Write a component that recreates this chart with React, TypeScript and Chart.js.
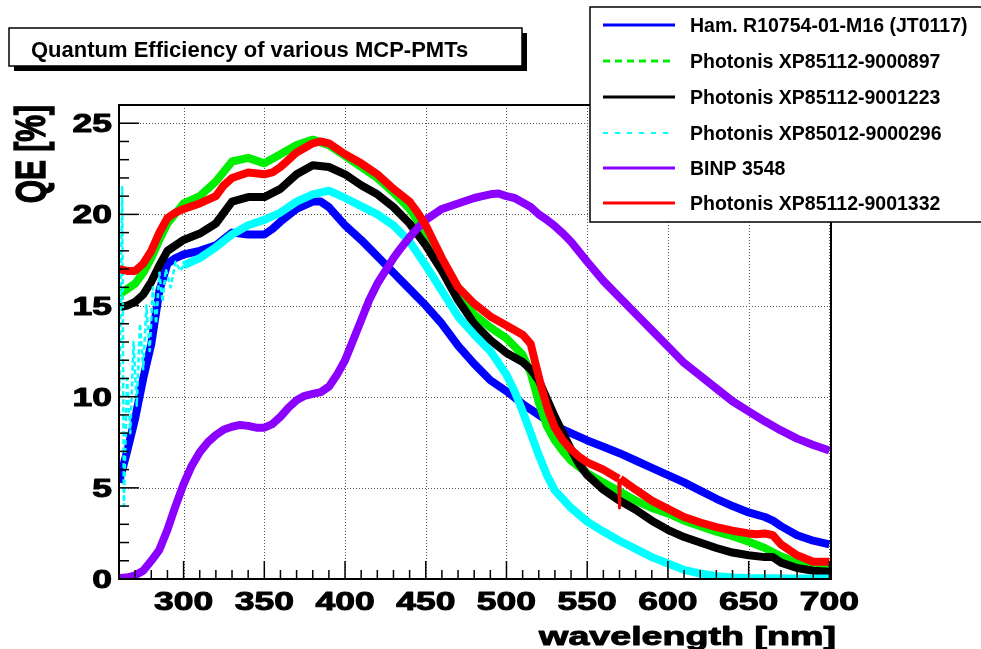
import React, { useEffect, useRef } from 'react';
import { Chart, registerables } from 'chart.js';

Chart.register(...registerables);

// ---------------- data ----------------
const X_MIN = 260;
const X_MAX = 701;
const Y_MIN = 0;
const Y_MAX = 26;

const xTickLabels = [300, 350, 400, 450, 500, 550, 600, 650, 700];
const yTickLabels = [0, 5, 10, 15, 20, 25];

const seriesNames = [
  'Ham. R10754-01-M16 (JT0117)',
  'Photonis XP85112-9000897',
  'Photonis XP85112-9001223',
  'Photonis XP85012-9000296',
  'BINP 3548',
  'Photonis XP85112-9001332',
];
const seriesColors = ['#0000ff', '#00ee00', '#000000', '#00ffff', '#8c00ff', '#ff0000'];

const hamWl = [260, 265, 270, 275, 280, 285, 290, 295, 300, 310, 320, 330, 340, 350, 355, 360, 370, 380, 385, 390, 400, 410, 420, 430, 440, 450, 460, 470, 480, 490, 500, 510, 520, 530, 540, 550, 560, 570, 580, 590, 600, 610, 620, 630, 640, 650, 660, 665, 670, 680, 690, 700];
const hamQE = [5.3, 7.0, 8.8, 11.0, 12.9, 15.8, 17.3, 17.6, 17.8, 18.0, 18.3, 19.0, 18.9, 18.9, 19.2, 19.6, 20.3, 20.7, 20.7, 20.4, 19.4, 18.6, 17.7, 16.8, 15.9, 15.0, 14.0, 12.8, 11.8, 10.9, 10.3, 9.6, 9.0, 8.4, 8.0, 7.6, 7.25, 6.9, 6.5, 6.1, 5.7, 5.3, 4.85, 4.4, 4.0, 3.65, 3.4, 3.2, 2.9, 2.4, 2.1, 1.9];

const ph897Wl = [260, 265, 270, 275, 280, 285, 290, 300, 310, 320, 330, 340, 350, 360, 370, 380, 390, 400, 410, 420, 430, 440, 450, 460, 470, 480, 490, 500, 510, 515, 520, 525, 530, 535, 540, 550, 560, 570, 580, 590, 600, 610, 620, 630, 640, 650, 660, 670, 680, 690, 700];
const ph897QE = [15.6, 15.9, 16.2, 16.8, 17.6, 18.6, 19.5, 20.6, 21.0, 21.8, 22.9, 23.1, 22.8, 23.3, 23.8, 24.1, 23.8, 23.2, 22.6, 22.0, 21.2, 20.3, 19.0, 17.3, 15.8, 14.5, 13.8, 13.2, 12.3, 11.3, 9.7, 8.4, 7.6, 7.0, 6.5, 5.8, 5.3, 4.8, 4.3, 3.9, 3.6, 3.2, 2.9, 2.6, 2.35, 2.05, 1.7, 1.25, 0.9, 0.65, 0.65];

const ph1223Wl = [260, 265, 270, 275, 280, 285, 290, 300, 310, 320, 330, 340, 350, 360, 370, 380, 390, 400, 410, 420, 430, 440, 450, 460, 470, 480, 490, 500, 510, 515, 520, 525, 530, 535, 540, 545, 550, 560, 570, 580, 590, 600, 610, 620, 630, 640, 650, 660, 665, 670, 680, 690, 700];
const ph1223QE = [14.9, 15.0, 15.2, 15.6, 16.3, 17.2, 18.0, 18.6, 18.95, 19.5, 20.7, 20.95, 20.95, 21.4, 22.2, 22.7, 22.6, 22.2, 21.6, 21.1, 20.4, 19.5, 18.3, 16.9, 15.3, 14.0, 13.1, 12.4, 11.9, 11.5, 10.9, 9.9, 8.9, 8.0, 7.1, 6.3, 5.7, 4.9, 4.3, 3.8, 3.2, 2.7, 2.3, 2.0, 1.7, 1.45, 1.3, 1.2, 1.2, 0.9, 0.6, 0.45, 0.4];

const ph296Wl = [260, 262, 263, 265, 267, 269, 271, 273, 275, 277, 279, 281, 283, 285, 287, 289, 292, 295, 298, 300, 310, 320, 330, 340, 350, 360, 370, 380, 390, 400, 410, 420, 430, 440, 450, 460, 470, 480, 490, 500, 505, 510, 515, 520, 525, 530, 540, 550, 560, 570, 580, 590, 600, 610, 620, 630, 640, 650, 675, 700];
const ph296QE = [9, 21.5, 4, 11, 8, 13, 9.5, 14, 11.5, 15, 12.5, 16, 14, 16.8, 15.2, 17, 16, 17.4, 16.9, 17.2, 17.6, 18.2, 18.9, 19.4, 19.7, 20.1, 20.7, 21.1, 21.3, 20.9, 20.45, 20.0, 19.4, 18.5, 17.2, 15.8, 14.4, 13.4, 12.5, 11.2, 10.3, 9.2, 8.0, 6.8, 5.7, 4.85, 3.9, 3.15, 2.6, 2.1, 1.65, 1.2, 0.85, 0.5, 0.3, 0.15, 0.08, 0.05, 0.03, 0.03];

const binpWl = [260, 265, 270, 275, 280, 285, 290, 295, 300, 305, 310, 315, 320, 325, 330, 335, 340, 345, 350, 355, 360, 365, 370, 375, 380, 385, 390, 395, 400, 405, 410, 415, 420, 425, 430, 435, 440, 445, 450, 455, 460, 465, 470, 475, 480, 485, 490, 495, 500, 505, 510, 515, 520, 525, 530, 535, 540, 545, 550, 560, 570, 580, 590, 600, 610, 620, 630, 640, 650, 660, 670, 680, 690, 700];
const binpQE = [0.05, 0.08, 0.2, 0.45, 1.0, 1.6, 2.7, 4.0, 5.2, 6.2, 6.95, 7.5, 7.9, 8.2, 8.35, 8.45, 8.4, 8.3, 8.3, 8.5, 8.9, 9.4, 9.8, 10.05, 10.15, 10.25, 10.55, 11.2, 12.0, 13.1, 14.2, 15.3, 16.2, 16.9, 17.6, 18.2, 18.75, 19.25, 19.7, 20.0, 20.3, 20.45, 20.6, 20.75, 20.9, 21.0, 21.1, 21.15, 21.0, 20.9, 20.65, 20.4, 20.0, 19.7, 19.35, 18.95, 18.5, 17.95, 17.4, 16.35, 15.45, 14.55, 13.65, 12.75, 11.85, 11.15, 10.45, 9.75, 9.2, 8.65, 8.15, 7.7, 7.35, 7.05];

const ph1332Wl = [260, 265, 270, 275, 280, 285, 290, 295, 300, 310, 320, 325, 330, 340, 350, 355, 360, 365, 370, 380, 385, 390, 400, 410, 420, 430, 440, 445, 450, 455, 460, 465, 470, 480, 490, 500, 510, 515, 518, 522, 526, 530, 535, 540, 545, 550, 560, 569.5, 570, 570.5, 580, 590, 600, 610, 620, 630, 640, 650, 655, 660, 665, 670, 680, 690, 700];
const ph1332QE = [17.0, 16.9, 16.9, 17.3, 18.0, 19.0, 19.8, 20.1, 20.3, 20.6, 21.0, 21.6, 22.0, 22.3, 22.2, 22.3, 22.6, 23.0, 23.4, 23.9, 24.0, 23.9, 23.3, 22.8, 22.2, 21.4, 20.7, 20.1, 19.4, 18.5, 17.6, 16.8, 16.0, 15.1, 14.4, 13.9, 13.4, 12.9, 11.8, 10.4, 9.2, 8.3, 7.6, 7.1, 6.7, 6.4, 6.0, 5.5, 3.9, 5.5, 4.9, 4.3, 3.85, 3.4, 3.1, 2.85, 2.65, 2.5, 2.45, 2.5, 2.4, 1.9, 1.3, 0.95, 0.95];

const titleText = 'Quantum Efficiency of various MCP-PMTs';
const xTitle = 'wavelength [nm]';
const yTitle = 'QE [%]';

// ---------------- helpers ----------------
const FONT = "'Liberation Sans', Arial, Helvetica, sans-serif";
const STRETCH = 1.42;

const toPoints = (wl: number[], qe: number[]) => wl.map((x, i) => ({ x, y: qe[i] }));

function stretchedText(ctx: CanvasRenderingContext2D, text: string, x: number, y: number, align: CanvasTextAlign, size: number) {
  ctx.save();
  ctx.translate(x, y);
  ctx.scale(STRETCH, 1);
  ctx.font = `bold ${size}px ${FONT}`;
  ctx.textAlign = align;
  ctx.textBaseline = 'alphabetic';
  ctx.fillStyle = '#000';
  ctx.strokeStyle = '#000';
  ctx.lineWidth = 1;
  ctx.lineJoin = 'round';
  ctx.fillText(text, 0, 0);
  ctx.strokeText(text, 0, 0);
  ctx.restore();
}

const rootStyle = {
  id: 'rootStyle',
  beforeDraw(chart: any) {
    const ctx = chart.ctx as CanvasRenderingContext2D;
    ctx.save();
    ctx.fillStyle = '#ffffff';
    ctx.fillRect(0, 0, chart.width, chart.height);
    ctx.restore();
  },
  beforeDatasetsDraw(chart: any) {
    const ctx = chart.ctx as CanvasRenderingContext2D;
    const a = chart.chartArea;
    const xs = chart.scales.x;
    const ys = chart.scales.y;
    ctx.save();
    ctx.strokeStyle = '#555';
    ctx.lineWidth = 1;
    ctx.setLineDash([1, 2]);
    xTickLabels.forEach((v) => {
      const px = Math.round(xs.getPixelForValue(v)) + 0.5;
      ctx.beginPath();
      ctx.moveTo(px, a.top);
      ctx.lineTo(px, a.bottom);
      ctx.stroke();
    });
    yTickLabels.forEach((v) => {
      if (v === 0) return;
      const py = Math.round(ys.getPixelForValue(v)) + 0.5;
      ctx.beginPath();
      ctx.moveTo(a.left, py);
      ctx.lineTo(a.right, py);
      ctx.stroke();
    });
    ctx.restore();
  },
  afterDatasetsDraw(chart: any) {
    const ctx = chart.ctx as CanvasRenderingContext2D;
    const a = chart.chartArea;
    const xs = chart.scales.x;
    const ys = chart.scales.y;
    ctx.save();
    // frame
    ctx.strokeStyle = '#000';
    ctx.lineWidth = 2;
    ctx.setLineDash([]);
    ctx.strokeRect(a.left, a.top, a.right - a.left, a.bottom - a.top);
    // ticks
    ctx.lineWidth = 1.5;
    for (let v = 260; v <= 700; v += 10) {
      const px = xs.getPixelForValue(v);
      const len = v % 50 === 0 ? 18 : 9;
      ctx.beginPath();
      ctx.moveTo(px, a.bottom);
      ctx.lineTo(px, a.bottom - len);
      ctx.stroke();
    }
    for (let v = 0; v <= 26; v += 1) {
      const py = ys.getPixelForValue(v);
      const len = v % 5 === 0 ? 20 : 10;
      ctx.beginPath();
      ctx.moveTo(a.left, py);
      ctx.lineTo(a.left + len, py);
      ctx.stroke();
    }
    ctx.restore();

    // tick labels
    xTickLabels.forEach((v) => {
      stretchedText(ctx, String(v), xs.getPixelForValue(v), a.bottom + 31, 'center', 25);
    });
    yTickLabels.forEach((v) => {
      stretchedText(ctx, String(v), a.left - 7, ys.getPixelForValue(v) + 9, 'right', 25);
    });
    // axis titles
    stretchedText(ctx, xTitle, 836, 645, 'right', 26.5);
    ctx.save();
    ctx.translate(45, a.top);
    ctx.scale(STRETCH, 1);
    ctx.rotate(-Math.PI / 2);
    ctx.font = `bold 30px ${FONT}`;
    ctx.textAlign = 'right';
    ctx.textBaseline = 'alphabetic';
    ctx.fillStyle = '#000';
    ctx.strokeStyle = '#000';
    ctx.lineWidth = 1;
    ctx.fillText(yTitle, 0, 0);
    ctx.strokeText(yTitle, 0, 0);
    ctx.restore();

    // title box with shadow
    ctx.save();
    ctx.fillStyle = '#000';
    ctx.fillRect(14, 33, 513, 38);
    ctx.fillStyle = '#fff';
    ctx.fillRect(9, 28, 513, 38);
    ctx.strokeStyle = '#000';
    ctx.lineWidth = 1.5;
    ctx.strokeRect(9, 28, 513, 38);
    ctx.fillStyle = '#000';
    ctx.font = `bold 22px ${FONT}`;
    ctx.textAlign = 'left';
    ctx.textBaseline = 'alphabetic';
    ctx.fillText(titleText, 31, 57);
    ctx.restore();

    // legend box
    ctx.save();
    ctx.fillStyle = '#fff';
    ctx.fillRect(590, 7, 400, 215);
    ctx.strokeStyle = '#000';
    ctx.lineWidth = 1.5;
    ctx.strokeRect(590, 7, 400, 215);
    const rowY = [25, 61, 97, 133, 168, 203];
    const dashes: number[][] = [[], [7, 5], [], [5, 7], [], []];
    const widths = [3, 3, 3, 2, 3, 3];
    seriesNames.forEach((name, i) => {
      const y = rowY[i];
      ctx.strokeStyle = seriesColors[i];
      ctx.lineWidth = widths[i];
      ctx.setLineDash(dashes[i]);
      ctx.beginPath();
      ctx.moveTo(603, y);
      ctx.lineTo(675, y);
      ctx.stroke();
      ctx.setLineDash([]);
      ctx.fillStyle = '#000';
      ctx.font = `bold 19.5px ${FONT}`;
      ctx.textAlign = 'left';
      ctx.textBaseline = 'alphabetic';
      ctx.fillText(name, 690, y + 7);
    });
    ctx.restore();
  },
};

// ---------------- component ----------------
export default function App() {
  const canvasRef = useRef<HTMLCanvasElement | null>(null);

  useEffect(() => {
    const canvas = canvasRef.current;
    if (!canvas) return;
    const seriesData = [
      toPoints(hamWl, hamQE),
      toPoints(ph897Wl, ph897QE),
      toPoints(ph1223Wl, ph1223QE),
      toPoints(ph296Wl, ph296QE),
      toPoints(binpWl, binpQE),
      toPoints(ph1332Wl, ph1332QE),
    ];
    const datasets: any[] = seriesData.map((data, i) => {
      const ds: any = {
        label: seriesNames[i],
        data,
        borderColor: seriesColors[i],
        backgroundColor: seriesColors[i],
        borderWidth: 8,
        pointRadius: 0,
        fill: false,
        tension: 0,
        borderJoinStyle: 'round',
        borderCapStyle: 'butt',
        order: 6 - i,
      };
      if (i === 3) {
        ds.segment = {
          borderWidth: (c: any) => (c.p1.parsed.x <= 300 ? 2.5 : undefined),
          borderDash: (c: any) => (c.p1.parsed.x <= 300 ? [5, 3] : undefined),
        };
      }
      if (i === 5) {
        ds.segment = {
          borderWidth: (c: any) => (c.p0.parsed.x >= 569.4 && c.p1.parsed.x <= 570.6 ? 3 : undefined),
        };
      }
      return ds;
    });

    const chart = new Chart(canvas, {
      type: 'line',
      data: { datasets },
      options: {
        animation: false,
        responsive: false,
        maintainAspectRatio: false,
        devicePixelRatio: 1,
        layout: { padding: { left: 119, top: 105, right: 150, bottom: 70 } },
        plugins: {
          legend: { display: false },
          title: { display: false },
          tooltip: { enabled: false },
        },
        scales: {
          x: { type: 'linear', min: X_MIN, max: X_MAX, display: false },
          y: { type: 'linear', min: Y_MIN, max: Y_MAX, display: false },
        },
      },
      plugins: [rootStyle],
    });
    return () => chart.destroy();
  }, []);

  return (
    <div style={{ position: 'absolute', left: 0, top: 0, width: 981, height: 649, background: '#fff' }}>
      <canvas ref={canvasRef} width={981} height={649} style={{ display: 'block', width: 981, height: 649 }} />
    </div>
  );
}
